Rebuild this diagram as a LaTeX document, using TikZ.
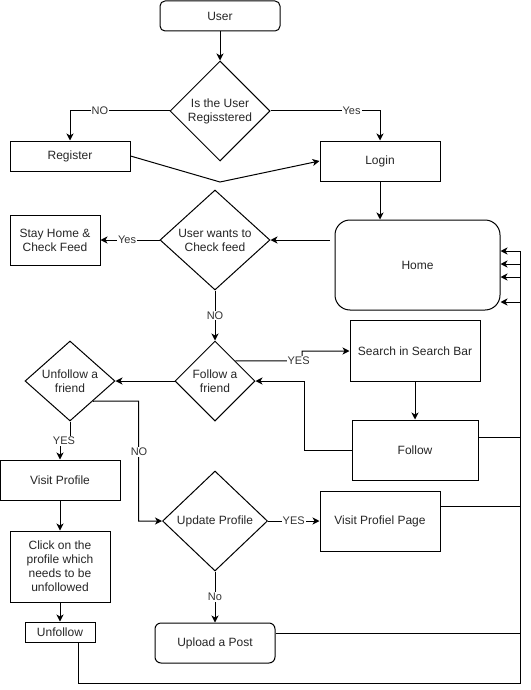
\documentclass[tikz,border=0pt]{standalone}
\usepackage{fontspec}
\setmainfont{Liberation Sans}
\usetikzlibrary{shapes.geometric,arrows.meta}
\begin{document}
\begin{tikzpicture}[x=1pt,y=-1pt,line width=1pt,
  every node/.style={font=\fontsize{12}{14}\selectfont, text=black!85},
  box/.style={draw, rectangle, inner sep=0pt, align=center},
  rbox/.style={box, rounded corners=#1},
  decision/.style={draw, diamond, inner sep=0pt, shape aspect=1},
  flow/.style={draw, -{Stealth[length=7pt,width=7pt,inset=2pt]}},
  lbl/.style={fill=white, inner sep=1pt, font=\fontsize{11}{13}\selectfont, text=black!80}]

% canvas
\fill[white] (0,0) rectangle (530,690);
\useasboundingbox (0,0) rectangle (530,690);

% nodes
\node[rbox=5pt, minimum width=120pt, minimum height=30pt] (user) at (220,16) {User};
\node[decision, minimum width=100pt, minimum height=100pt,
      label={[align=center]center:Is the User\\Regisstered}] (reg?) at (220,111) {};
\node[box, minimum width=120pt, minimum height=30pt] (register) at (70,156) {Register};
\node[box, minimum width=120pt, minimum height=40pt] (login) at (380,161) {Login};
\node[rbox=15pt, minimum width=165pt, minimum height=90pt] (home) at (417.5,265) {Home};
\node[decision, minimum width=110pt, minimum height=100pt,
      label={[align=center]center:User wants to\\Check feed}] (feed?) at (215,240) {};
\node[box, minimum width=90pt, minimum height=50pt] (stay) at (55,240) {Stay Home \&\\Check Feed};
\node[decision, minimum width=80pt, minimum height=80pt,
      label={[align=center]center:Follow a\\friend}] (follow?) at (215,381) {};
\node[box, minimum width=130pt, minimum height=61pt] (search) at (415,351) {Search in Search Bar};
\node[box, minimum width=126pt, minimum height=60pt] (follow) at (415,450) {Follow};
\node[decision, minimum width=90pt, minimum height=80pt,
      label={[align=center]center:Unfollow a\\friend}] (unfollow?) at (70,381) {};
\node[box, minimum width=120pt, minimum height=40pt] (visit) at (60,480) {Visit Profile};
\node[box, minimum width=100pt, minimum height=71pt] (click) at (60,566.5) {Click on the\\profile which\\needs to be\\unfollowed};
\node[box, minimum width=70pt, minimum height=20pt] (unfollow) at (60,632) {Unfollow};
\node[decision, minimum width=105pt, minimum height=100pt,
      label={[align=center]center:Update Profile}] (update?) at (215,521) {};
\node[box, minimum width=120pt, minimum height=60pt] (vpage) at (380,521) {Visit Profiel Page};
\node[rbox=6pt, minimum width=120pt, minimum height=40pt] (upload) at (215,643) {Upload a Post};

% helper points
\coordinate (dip) at (220,182);
\coordinate (yesbend) at (302,361);
\coordinate (backx) at (304,450);
\coordinate (nox) at (138.5,401);
\coordinate (yesjog) at (70,440);
\coordinate (fy) at (520,437);
\coordinate (vy) at (520,506);
\coordinate (uy) at (520,633);
\coordinate (ub) at (78,683);
\coordinate (h1) at (520,251);
\coordinate (h2) at (520,264);
\coordinate (h3) at (520,277);
\coordinate (h4) at (520,302);

% connectors
\draw[flow] (user) -- (reg?);
\draw[flow] (reg?.west) -| node[lbl, pos=0.35] {NO} (register.north);
\draw[flow] (reg?.east) -| node[lbl, pos=0.37] {Yes} (login.north);
\draw[flow] (register.east) -- (dip) -- (login.west);
\draw[flow] (login.south) -- (login.south |- home.north);
\draw[flow, shorten <=5pt] (home.west |- feed?.east) -- (feed?.east);
\draw[flow] (feed?.west) -- node[lbl, pos=0.55] {Yes} (stay.east);
\draw[flow] (feed?.south) -- node[lbl, pos=0.5] {NO} (follow?.north);
\draw[flow] (follow?.north east) -- (yesbend) node[lbl, pos=0.95] {YES}
  -- (yesbend |- search.west) -- (search.west);
\draw[flow] (search.south) -- (follow.north);
\draw[flow] (follow.west) -- (backx) -- (backx |- follow?.east) -- (follow?.east);
\draw[flow] (follow?.west) -- (unfollow?.east);
\draw[flow] (unfollow?.south) -- (yesjog) -- (yesjog -| visit.north) -- (visit.north);
\node[lbl] (yeslbl) at (64,441) {YES};
\draw[flow] (unfollow?.south east) -- (nox) -- (nox |- update?.west) -- (update?.west);
\node[lbl] (nolbl) at (139,452) {NO};
\draw[flow] (visit.south) -- (click.north);
\draw[flow] (click.south) -- (unfollow.north);
\draw[flow] (update?.east) -- node[lbl, pos=0.5] {YES} (vpage.west);
\draw[flow] (update?.south) -- node[lbl, pos=0.5] {No} (upload.north);

% returns to Home along the right edge
\draw[flow] (unfollow.south -| ub) -- (ub) -- (ub -| h1) -- (h1) -- (home.east |- h1);
\draw[flow] (upload.east |- uy) -- (uy) -- (h2) -- (home.east |- h2);
\draw[flow] (vpage.east |- vy) -- (vy) -- (h3) -- (home.east |- h3);
\draw[flow] (follow.east |- fy) -- (fy) -- (h4) -- (home.east |- h4);
\end{tikzpicture}
\end{document}
